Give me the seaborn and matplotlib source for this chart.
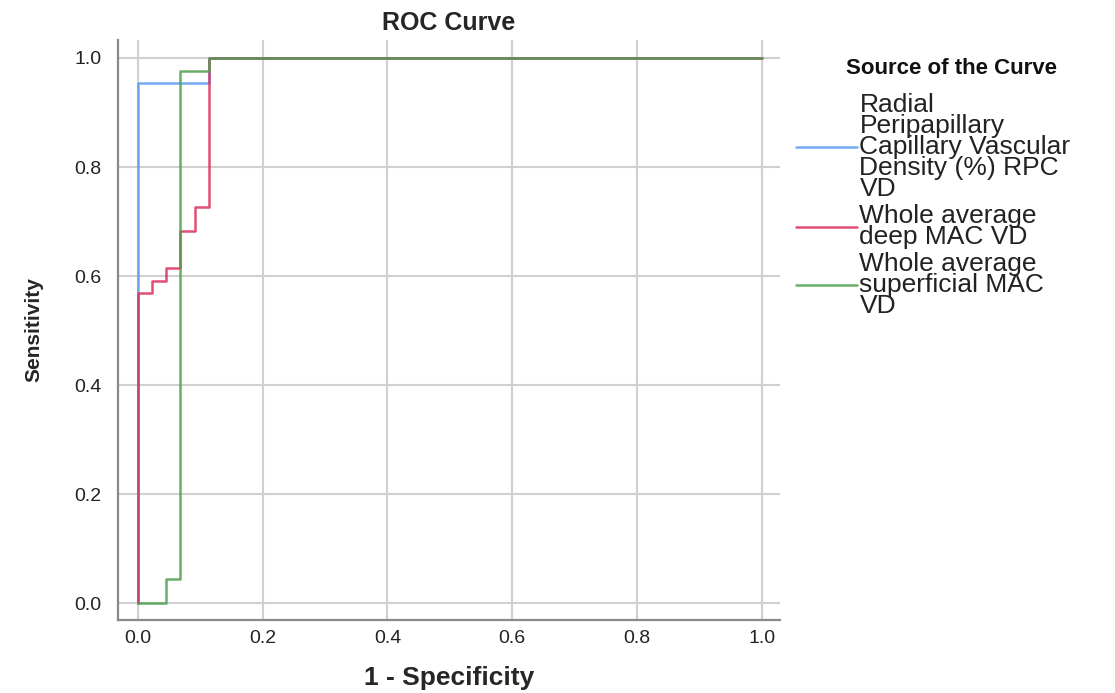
import pandas as pd
import matplotlib.pyplot as plt
import seaborn as sns

# ROC points (1 - specificity, sensitivity)
series_names = ["Radial Peripapillary Capillary Vascular Density (%) RPC VD",
                "Whole average deep MAC VD",
                "Whole average superficial MAC VD"]
legend_labels = ["Radial\nPeripapillary\nCapillary Vascular\nDensity (%) RPC\nVD",
                 "Whole average\ndeep MAC VD",
                 "Whole average\nsuperficial MAC\nVD"]
line_colors = ["#5b9cf0", "#dc2e5c", "#4e9f4e"]

rpc_fpr = [0.0, 0.0, 0.1136, 1.0]
rpc_tpr = [0.0, 0.955, 1.0, 1.0]

deep_fpr = [0.0, 0.0, 0.0227, 0.0455, 0.0682, 0.0909, 0.1136, 1.0]
deep_tpr = [0.0, 0.568, 0.591, 0.614, 0.682, 0.727, 1.0, 1.0]

sup_fpr = [0.0, 0.0455, 0.0682, 0.1136, 1.0]
sup_tpr = [0.0, 0.045, 0.977, 1.0, 1.0]

x_ticks = [0.0, 0.2, 0.4, 0.6, 0.8, 1.0]
y_ticks = [0.0, 0.2, 0.4, 0.6, 0.8, 1.0]

# build one long table for seaborn
frames = []
for name, fpr, tpr in zip(series_names, [rpc_fpr, deep_fpr, sup_fpr], [rpc_tpr, deep_tpr, sup_tpr]):
    frames.append(pd.DataFrame({"fpr": fpr, "tpr": tpr, "curve": name}))
df = pd.concat(frames, ignore_index=True)

sns.set_style("white")
plt.rcParams["font.family"] = ["Liberation Sans", "DejaVu Sans"]

fig = plt.figure(figsize=(11.15, 6.93), dpi=100)
ax = fig.add_axes([0.1058, 0.1053, 0.5937, 0.837])

sns.lineplot(data=df, x="fpr", y="tpr", hue="curve", hue_order=series_names,
             palette=dict(zip(series_names, line_colors)), sort=False, estimator=None,
             drawstyle="steps-post", linewidth=1.8, alpha=0.85, ax=ax, legend=True)

ax.set_xlim(-0.032, 1.029)
ax.set_ylim(-0.031, 1.033)
ax.set_xticks(x_ticks)
ax.set_yticks(y_ticks)
ax.set_xticklabels([f"{v:.1f}" for v in x_ticks])
ax.set_yticklabels([f"{v:.1f}" for v in y_ticks])
ax.tick_params(axis="both", length=0, labelsize=14, colors="#222222")
ax.tick_params(axis="x", pad=7)
ax.tick_params(axis="y", pad=12)

ax.grid(True, color="#d0d0d0", linewidth=1.5)
ax.set_axisbelow(True)
for side in ["top", "right"]:
    ax.spines[side].set_visible(False)
for side in ["left", "bottom"]:
    ax.spines[side].set_color("#8a8a8a")
    ax.spines[side].set_linewidth(1.6)

ax.set_title("ROC Curve", fontsize=18, fontweight="bold", pad=7)
ax.set_xlabel("1 - Specificity", fontsize=19, fontweight="bold", labelpad=14)
ax.set_ylabel("Sensitivity", fontsize=15, fontweight="bold", labelpad=22)

handles, _ = ax.get_legend_handles_labels()
leg = ax.legend(handles, legend_labels, loc="upper left", bbox_to_anchor=(0.714, 0.866),
                bbox_transform=fig.transFigure, frameon=False, fontsize=19,
                handlelength=2.3, handletextpad=0.1, labelspacing=0.12, borderpad=0,
                borderaxespad=0)
for t in leg.get_texts():
    t.set_linespacing(0.84)
    t.set_color("#222222")

fig.text(952 / 1115, 1 - 68 / 693, "Source of the Curve", ha="center", va="center",
         fontsize=16, fontweight="bold", color="#111111")

fig.savefig("out.png", dpi=100)
